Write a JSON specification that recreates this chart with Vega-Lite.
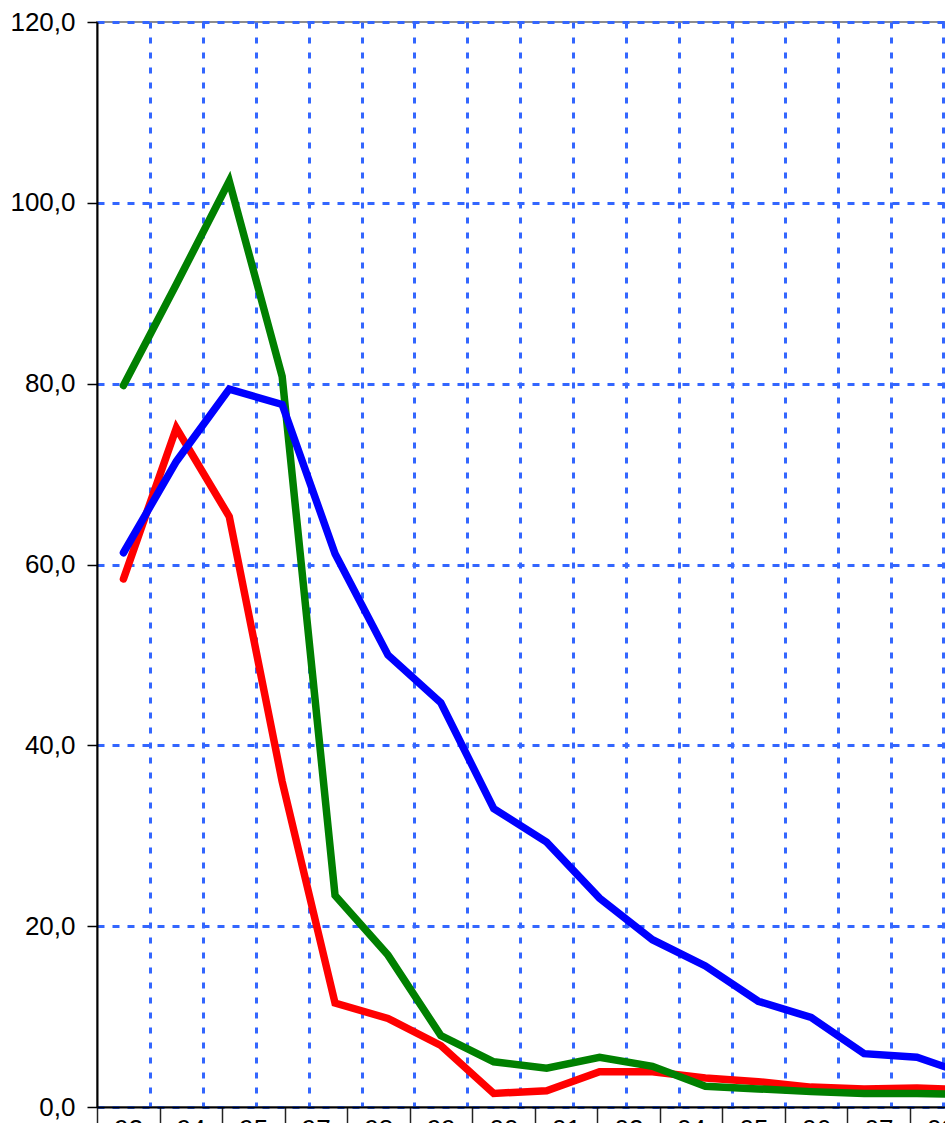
{
  "$schema": "https://vega.github.io/schema/vega-lite/v6.json",
  "autosize": "none",
  "padding": {"left": 97, "top": 22, "right": -51.3, "bottom": 16},
  "width": 899.3,
  "height": 1085,
  "background": "white",
  "config": {
    "view": {"stroke": "#8c8c8c", "strokeWidth": 2},
    "font": "Liberation Sans"
  },
  "datasets": {
    "series": [
      {"year": "1993", "series": "Serie 1", "value": 58.4},
      {"year": "1994", "series": "Serie 1", "value": 75.1},
      {"year": "1995", "series": "Serie 1", "value": 65.3},
      {"year": "1996", "series": "Serie 1", "value": 36.0},
      {"year": "1997", "series": "Serie 1", "value": 11.5},
      {"year": "1998", "series": "Serie 1", "value": 9.8},
      {"year": "1999", "series": "Serie 1", "value": 6.8},
      {"year": "2000", "series": "Serie 1", "value": 1.5},
      {"year": "2001", "series": "Serie 1", "value": 1.8},
      {"year": "2002", "series": "Serie 1", "value": 3.9},
      {"year": "2003", "series": "Serie 1", "value": 3.9},
      {"year": "2004", "series": "Serie 1", "value": 3.2},
      {"year": "2005", "series": "Serie 1", "value": 2.8},
      {"year": "2006", "series": "Serie 1", "value": 2.2},
      {"year": "2007", "series": "Serie 1", "value": 2.0},
      {"year": "2008", "series": "Serie 1", "value": 2.1},
      {"year": "2009", "series": "Serie 1", "value": 1.9},
      {"year": "1993", "series": "Serie 2", "value": 79.8},
      {"year": "1994", "series": "Serie 2", "value": 91.0},
      {"year": "1995", "series": "Serie 2", "value": 102.4},
      {"year": "1996", "series": "Serie 2", "value": 80.8},
      {"year": "1997", "series": "Serie 2", "value": 23.4},
      {"year": "1998", "series": "Serie 2", "value": 16.8},
      {"year": "1999", "series": "Serie 2", "value": 7.9},
      {"year": "2000", "series": "Serie 2", "value": 5.0},
      {"year": "2001", "series": "Serie 2", "value": 4.3},
      {"year": "2002", "series": "Serie 2", "value": 5.5},
      {"year": "2003", "series": "Serie 2", "value": 4.5},
      {"year": "2004", "series": "Serie 2", "value": 2.3},
      {"year": "2005", "series": "Serie 2", "value": 2.0},
      {"year": "2006", "series": "Serie 2", "value": 1.7},
      {"year": "2007", "series": "Serie 2", "value": 1.5},
      {"year": "2008", "series": "Serie 2", "value": 1.5},
      {"year": "2009", "series": "Serie 2", "value": 1.4},
      {"year": "1993", "series": "Serie 3", "value": 61.3},
      {"year": "1994", "series": "Serie 3", "value": 71.4},
      {"year": "1995", "series": "Serie 3", "value": 79.4},
      {"year": "1996", "series": "Serie 3", "value": 77.7},
      {"year": "1997", "series": "Serie 3", "value": 61.2},
      {"year": "1998", "series": "Serie 3", "value": 50.0},
      {"year": "1999", "series": "Serie 3", "value": 44.7},
      {"year": "2000", "series": "Serie 3", "value": 33.0},
      {"year": "2001", "series": "Serie 3", "value": 29.3},
      {"year": "2002", "series": "Serie 3", "value": 23.1},
      {"year": "2003", "series": "Serie 3", "value": 18.5},
      {"year": "2004", "series": "Serie 3", "value": 15.6},
      {"year": "2005", "series": "Serie 3", "value": 11.7},
      {"year": "2006", "series": "Serie 3", "value": 9.9},
      {"year": "2007", "series": "Serie 3", "value": 5.9},
      {"year": "2008", "series": "Serie 3", "value": 5.5},
      {"year": "2009", "series": "Serie 3", "value": 3.5}
    ],
    "table": [
      {"label": "93"}, {"label": "94"}, {"label": "95"}, {"label": "97"},
      {"label": "98"}, {"label": "99"}, {"label": "00"}, {"label": "01"},
      {"label": "02"}, {"label": "04"}, {"label": "05"}, {"label": "06"},
      {"label": "07"}, {"label": "08"}
    ]
  },
  "layer": [
    {
      "data": {"name": "table"},
      "mark": {"type": "text", "text": ""},
      "encoding": {
        "x": {
          "field": "label",
          "type": "ordinal",
          "sort": null,
          "scale": {"paddingInner": 0, "paddingOuter": 0.1923, "align": 0},
          "axis": {
            "orient": "bottom",
            "title": null,
            "domain": false,
            "grid": false,
            "ticks": true,
            "tickBand": "extent",
            "tickSize": 22,
            "tickColor": "#222222",
            "tickWidth": 1.5,
            "labelAngle": 0,
            "labelFont": "Liberation Sans",
            "labelFontSize": 26,
            "labelColor": "#000000",
            "labelPadding": -13
          }
        }
      }
    },
    {
      "data": {"name": "series"},
      "mark": {"type": "line", "strokeWidth": 7.5, "strokeCap": "round"},
      "encoding": {
        "x": {
          "field": "year",
          "type": "ordinal",
          "scale": {"paddingInner": 0, "paddingOuter": 0},
          "axis": {
            "orient": "bottom",
            "title": null,
            "labels": false,
            "ticks": false,
            "domain": true,
            "domainColor": "#000000",
            "domainWidth": 2,
            "grid": true,
            "tickBand": "extent",
            "gridColor": "#3366FF",
            "gridOpacity": {"condition": {"test": "!!datum.extra", "value": 0}, "value": 1},
            "gridDash": [6, 9],
            "gridWidth": 3
          }
        },
        "y": {
          "field": "value",
          "type": "quantitative",
          "scale": {"domain": [0, 120], "nice": false, "zero": true},
          "axis": {
            "title": null,
            "values": [0, 20, 40, 60, 80, 100, 120],
            "labelExpr": "replace(format(datum.value, '.1f'), '.', ',')",
            "grid": true,
            "gridColor": "#3366FF",
            "gridDash": [7, 8],
            "gridWidth": 3,
            "domainColor": "#000000",
            "domainWidth": 2,
            "tickColor": "#000000",
            "tickSize": 10,
            "tickWidth": 1.5,
            "labelFont": "Liberation Sans",
            "labelFontSize": 26,
            "labelColor": "#000000",
            "labelPadding": 12
          }
        },
        "color": {
          "field": "series",
          "type": "nominal",
          "scale": {"domain": ["Serie 1", "Serie 2", "Serie 3"], "range": ["#FF0000", "#008000", "#0000FF"]},
          "legend": null
        }
      }
    }
  ],
  "resolve": {"scale": {"x": "independent"}, "axis": {"x": "independent"}}
}
